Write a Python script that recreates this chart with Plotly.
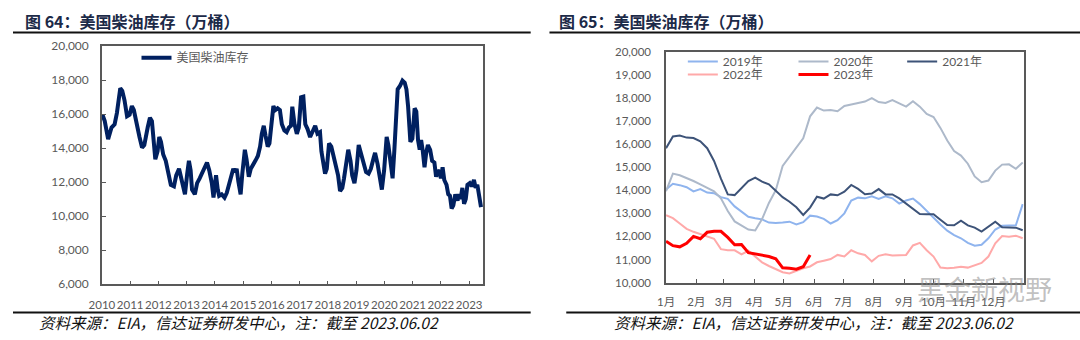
import plotly.graph_objects as go

# ---------------- Data ----------------
# Left chart: US diesel (distillate) inventory, 10k barrels, by fractional year
hist_year = [
    2010.02, 2010.10, 2010.22, 2010.34, 2010.45, 2010.53, 2010.65, 2010.72, 2010.80, 2010.89, 2010.98,
    2011.06, 2011.13, 2011.21, 2011.33, 2011.42, 2011.50, 2011.62, 2011.70, 2011.77, 2011.83, 2011.89, 2011.97,
    2012.03, 2012.09, 2012.17, 2012.26, 2012.34, 2012.44, 2012.55, 2012.63, 2012.73, 2012.80, 2012.87, 2012.94,
    2013.02, 2013.08, 2013.14, 2013.19, 2013.29, 2013.37, 2013.46, 2013.54, 2013.64, 2013.72, 2013.80, 2013.89, 2013.95,
    2014.01, 2014.04, 2014.10, 2014.15, 2014.24, 2014.34, 2014.42, 2014.50, 2014.59, 2014.65, 2014.71, 2014.77, 2014.83, 2014.91, 2014.97,
    2015.06, 2015.12, 2015.20, 2015.27, 2015.35, 2015.43, 2015.52, 2015.60, 2015.66, 2015.73, 2015.79, 2015.87, 2015.93, 2015.99,
    2016.07, 2016.14, 2016.22, 2016.30, 2016.37, 2016.46, 2016.54, 2016.62, 2016.69, 2016.74, 2016.82, 2016.90, 2016.97,
    2017.05, 2017.13, 2017.20, 2017.28, 2017.37, 2017.46, 2017.55, 2017.63, 2017.72, 2017.77, 2017.84, 2017.90, 2017.96,
    2018.04, 2018.12, 2018.19, 2018.28, 2018.36, 2018.43, 2018.51, 2018.57, 2018.65, 2018.72, 2018.80, 2018.86, 2018.94,
    2019.01, 2019.09, 2019.17, 2019.27, 2019.35, 2019.44, 2019.52, 2019.62, 2019.67, 2019.76, 2019.83, 2019.91, 2019.99,
    2020.08, 2020.14, 2020.22, 2020.29, 2020.35, 2020.41, 2020.47, 2020.55, 2020.64, 2020.72, 2020.78, 2020.84, 2020.92, 2020.99,
    2021.07, 2021.13, 2021.19, 2021.25, 2021.30, 2021.36, 2021.42, 2021.48, 2021.54, 2021.62, 2021.69, 2021.77, 2021.83, 2021.89, 2021.95,
    2022.00, 2022.06, 2022.12, 2022.20, 2022.26, 2022.32, 2022.38, 2022.44, 2022.51, 2022.59, 2022.65, 2022.70, 2022.76, 2022.82, 2022.88, 2022.94,
    2023.02, 2023.09, 2023.17, 2023.23, 2023.29, 2023.37, 2023.42,
]
hist_value = [
    15970, 15600, 14530, 15220, 15410, 16070, 17530, 17380, 16820, 15880, 15970,
    16480, 16250, 15500, 14660, 14040, 14190, 15220, 15790, 15600, 14570, 13350, 13820,
    14660, 14380, 13630, 13260, 12510, 11850, 11760, 12410, 12790, 12230, 11760, 11290,
    12510, 13260, 12700, 11570, 11290, 11950, 12230, 12510, 12880, 13160, 12700, 11950, 11100,
    12040, 12410, 11570, 11200, 11290, 11100, 11380, 11850, 12510, 12790, 12600, 12790, 12040, 11290, 12510,
    13910, 13350, 12320, 12790, 12980, 13260, 13540, 14100, 14850, 15320, 14760, 14100, 14290, 15410,
    16480, 16250, 16350, 16250, 15410, 15040, 14940, 15220, 15320, 16440, 15400, 14850, 15220,
    17000, 17040, 15410, 15130, 14660, 14940, 15320, 14850, 14940, 13820, 13070, 12510, 12790,
    14290, 14100, 13630, 12880, 12410, 11480, 11670, 12230, 12980, 13910, 13260, 12410, 11950,
    12700, 14190, 13730, 13070, 12600, 12510, 12790, 13440, 13730, 13070, 12320, 11570, 12700,
    14660, 14190, 12980, 12230, 13820, 15790, 17470, 17660, 17980, 17850, 17470, 16440, 14380, 14570,
    16350, 16160, 14480, 13910, 14480, 13820, 12880, 13730, 14190, 13910, 13260, 13160, 12320, 12700, 12600,
    12230, 12880, 12130, 11850, 11290, 11200, 10450, 10640, 11290, 10920, 11290, 11010, 11670, 10730, 11010, 11850,
    11950, 11760, 12130, 11670, 11850, 11100, 10540,
]
year_ticks = list(range(2010, 2024))

# Right chart: weekly inventory by year (10k barrels), week 1..53
weeks = list(range(1, 54))
inv_2019 = [14030, 14280, 14220, 14130, 13950, 14050, 13900, 13870, 13700, 13630,
            13300, 13080, 12850, 12790, 12740, 12600, 12580, 12600, 12640, 12520,
            12620, 12900, 12860, 12760, 12560, 12700, 13000, 13550, 13680, 13650,
            13740, 13620, 13740, 13650, 13420, 13560, 13640, 13400, 13100, 12830,
            12520, 12250, 12060, 11920, 11720, 11600, 11640, 11920, 12300, 12460,
            12480, 12480, 13400]
inv_2020 = [13960, 14720, 14650, 14530, 14400, 14250, 14100, 13950, 13650, 13100,
            12650, 12490, 12300, 12260, 12750, 13450, 14000, 15050, 15450, 15800,
            16250, 17200, 17580, 17450, 17470, 17420, 17650, 17710, 17780, 17840,
            17990, 17820, 17780, 17900, 17760, 17620, 17850, 17620, 17300, 17170,
            16700, 16150, 15700, 15500, 15150, 14600, 14350, 14420, 14850, 15110,
            15120, 14930, 15200]
inv_2021 = [15820, 16330, 16370, 16280, 16260, 16120, 15820, 15270, 14500, 13820,
            13790, 14100, 14400, 14550, 14370, 14260, 13980, 13700, 13500, 13260,
            12930, 13250, 13720, 13640, 13820, 13780, 13940, 14230, 14060, 13830,
            13860, 14050, 13820, 13820, 13650, 13420, 13210, 12970, 12960, 12960,
            12720, 12490, 12480, 12680, 12480, 12380, 12210, 12440, 12640, 12400,
            12400, 12380, 12270]
inv_2022 = [12920, 12790, 12560, 12330, 12200, 12100, 12000, 11900, 11450, 11400,
            11400, 11220, 11380, 11150, 10880, 10720, 10580, 10450, 10400, 10520,
            10620, 10700, 10880, 10950, 11020, 11200, 11130, 11400, 11270, 11200,
            10920, 11160, 11230, 11170, 11200, 11200, 11610, 11720, 11400, 11130,
            10650, 10620, 10640, 10690, 10650, 10760, 10850, 11130, 11700, 12020,
            11990, 12030, 11920]
inv_2023 = [11790, 11600, 11550, 11700, 12000, 11900, 12180, 12220, 12220, 11960,
            11640, 11650, 11300, 11240, 11200, 11130, 11030, 10640, 10620, 10580,
            10690, 11200]
month_labels = ["1月", "2月", "3月", "4月", "5月", "6月", "7月", "8月", "9月", "10月", "11月", "12月"]
month_start_day = [1, 32, 60, 91, 121, 152, 182, 213, 244, 274, 305, 335]

W, H = 1080, 340
def px(x): return x / W
def py(y): return 1 - y / H

fig = go.Figure()

NAVY = "#002060"
fig.add_trace(go.Scatter(x=hist_year, y=hist_value, mode="lines", name="美国柴油库存",
                         line=dict(color=NAVY, width=4), xaxis="x", yaxis="y", legend="legend"))

series = [
    ("2019年", inv_2019, "#8FB4EE", 2, "legend2"),
    ("2020年", inv_2020, "#ADB9CA", 2, "legend3"),
    ("2021年", inv_2021, "#3D5378", 2, "legend4"),
    ("2022年", inv_2022, "#FFA9A9", 2, "legend5"),
    ("2023年", inv_2023, "#FF0000", 3, "legend6"),
]
for name, vals, col, wd, lg in series:
    days = [1 + 7 * (w - 1) for w in weeks[:len(vals)]]
    fig.add_trace(go.Scatter(x=days, y=vals, mode="lines", name=name,
                             line=dict(color=col, width=wd), xaxis="x2", yaxis="y2", legend=lg))

TICKFONT = dict(family="Lato, Liberation Sans, sans-serif", size=12, color="#595959")
AXC = "#595959"

layout = dict(
    width=W, height=H, margin=dict(l=0, r=0, t=0, b=0),
    paper_bgcolor="white", plot_bgcolor="white", showlegend=True,
    xaxis=dict(domain=[px(90), px(476)], range=[2010, 2023.5], tickvals=year_ticks,
               ticktext=[str(y) for y in year_ticks], ticks="inside", ticklen=4, tickcolor=AXC,
               tickangle=0,
               showline=True, linecolor=AXC, linewidth=1.5, mirror=True, showgrid=False, zeroline=False,
               tickfont=dict(family="Lato, sans-serif", size=11.5, color="#595959"), anchor="y",
               ticklabelstandoff=9),
    yaxis=dict(domain=[py(289), py(40)], range=[6000, 20000], dtick=2000, tickformat=",d",
               ticks="inside", ticklen=4, tickcolor=AXC, showline=True, linecolor=AXC, linewidth=1.5,
               mirror=True, showgrid=False, zeroline=False, tickfont=TICKFONT, anchor="x",
               ticklabelstandoff=9),
    xaxis2=dict(domain=[px(661), px(1023)], range=[1, 366], tickvals=month_start_day, ticktext=month_labels,
                ticks="inside", ticklen=4, tickcolor=AXC, showline=True, linecolor=AXC, linewidth=1.5,
                mirror=True, showgrid=False, zeroline=False, tickangle=0,
                tickfont=dict(family="Lato, Noto Sans CJK SC, sans-serif", size=11.5, color="#595959"),
                anchor="y2", ticklabelstandoff=8),
    yaxis2=dict(domain=[py(287.3), py(45.7)], range=[10000, 20000], dtick=1000, tickformat=",d",
                ticks="", showline=True, linecolor=AXC, linewidth=1.5, mirror=True, showgrid=False,
                zeroline=False, tickfont=dict(family="Lato, sans-serif", size=11.5, color="#595959"),
                anchor="x2", ticklabelstandoff=11),
)

LEGFONT = dict(family="Lato, Noto Sans CJK SC, sans-serif", size=12, color="#595959")
def leg(x, y):
    return dict(x=px(x), y=py(y), xanchor="left", yanchor="middle", bgcolor="rgba(0,0,0,0)",
                borderwidth=0, font=LEGFONT, itemwidth=30, tracegroupgap=0)
layout["legend"] = leg(125, 52)
layout["legend2"] = leg(678, 56)
layout["legend3"] = leg(790, 56)
layout["legend4"] = leg(900, 56)
layout["legend5"] = leg(678, 69.5)
layout["legend6"] = leg(790, 69.5)

TITLE_FONT = dict(family="Noto Sans CJK SC, sans-serif", size=16, color="#1C2A48", weight="bold")
FOOT_FONT = dict(family="Noto Sans CJK SC, sans-serif", size=15.5, color="#111111")
layout["annotations"] = [
    dict(text="<b>图 64：美国柴油库存（万桶）</b>", x=px(10), y=py(14), xref="paper", yref="paper",
         xanchor="left", yanchor="middle", showarrow=False, font=TITLE_FONT),
    dict(text="<b>图 65：美国柴油库存（万桶）</b>", x=px(551), y=py(14), xref="paper", yref="paper",
         xanchor="left", yanchor="middle", showarrow=False, font=TITLE_FONT),
    dict(text="<i>资料来源：EIA，信达证券研发中心，注：截至 2023.06.02</i>", x=px(24), y=py(329),
         xref="paper", yref="paper", xanchor="left", yanchor="middle", showarrow=False, font=FOOT_FONT),
    dict(text="<i>资料来源：EIA，信达证券研发中心，注：截至 2023.06.02</i>", x=px(606), y=py(329),
         xref="paper", yref="paper", xanchor="left", yanchor="middle", showarrow=False, font=FOOT_FONT),
    dict(text="黑金新视野", x=px(913), y=py(293), xref="paper", yref="paper", xanchor="left",
         yanchor="middle", showarrow=False,
         font=dict(family="Noto Sans CJK SC, sans-serif", size=27, color="rgba(140,140,140,0.55)")),
]

LINEC = "#111111"
layout["shapes"] = [
    dict(type="line", xref="paper", yref="paper", x0=0, x1=px(524), y0=py(25.5), y1=py(25.5),
         line=dict(color=LINEC, width=2)),
    dict(type="line", xref="paper", yref="paper", x0=px(543), x1=1, y0=py(25.5), y1=py(25.5),
         line=dict(color=LINEC, width=2)),
    dict(type="line", xref="paper", yref="paper", x0=0, x1=px(524), y0=py(318.5), y1=py(318.5),
         line=dict(color=LINEC, width=2)),
    dict(type="line", xref="paper", yref="paper", x0=px(560), x1=1, y0=py(318.5), y1=py(318.5),
         line=dict(color=LINEC, width=2)),
]

fig.update_layout(**layout)
fig.write_html("out.html")
